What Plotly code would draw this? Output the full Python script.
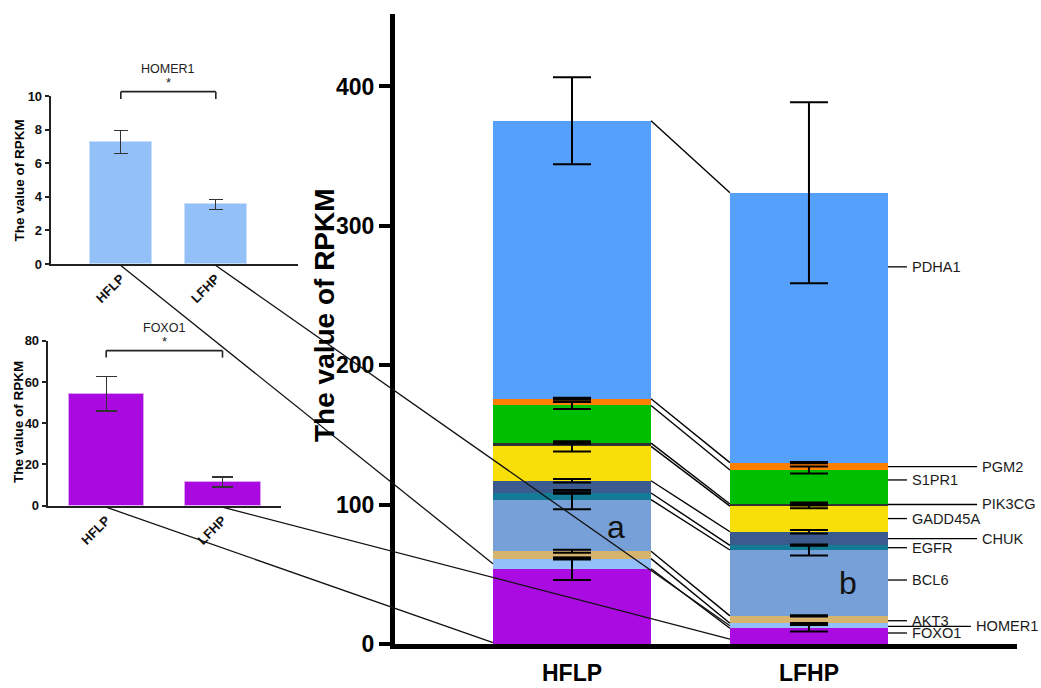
import numpy as np
import plotly.graph_objects as go

W, H = 1041, 688

# ---------------- data ----------------
groups = ["HFLP", "LFHP"]
genes = ["FOXO1", "HOMER1", "AKT3", "BCL6", "EGFR", "CHUK",
         "GADD45A", "PIK3CG", "S1PR1", "PGM2", "PDHA1"]
hflp = [54.0, 7.25, 5.3, 37.0, 4.8, 8.8, 24.6, 2.4, 27.0, 4.8, 199.5]
lfhp = [11.3, 3.55, 5.3, 47.3, 3.3, 9.8, 18.4, 1.5, 24.4, 5.3, 193.6]
hflp_err = [8.0, 0.7, 1.0, 6.9, 0.5, 1.2, 3.7, 0.5, 2.5, 0.7, 31.2]
lfhp_err = [2.4, 0.3, 0.5, 4.0, 0.3, 1.2, 1.5, 1.0, 2.5, 0.5, 65.0]

homer1_mean = [7.25, 3.55]
homer1_err = [0.68, 0.30]
foxo1_mean = [54.2, 11.5]
foxo1_err = [8.3, 2.4]

main_yticks = [0, 100, 200, 300, 400]
homer1_yticks = [0, 2, 4, 6, 8, 10]
foxo1_yticks = [0, 20, 40, 60, 80]

# ---------------- styles / layout helpers ----------------
colors = ["#AA0BE1", "#93C0F8", "#D7B46E", "#77A0D8", "#137B95", "#3B5A8D",
          "#F9DF0A", "#333333", "#00BE00", "#FF8000", "#55A0FA"]
# label anchor values on the LFHP bar (y, in axis units) and leader lengths (x units)
label_y = [7.9, 12.6, 16.7, 45.9, 69.1, 75.6, 90.0, 100.1, 117.7, 127.3, 270.6]
label_len = [0.08, 0.35, 0.08, 0.08, 0.08, 0.376, 0.08, 0.376, 0.08, 0.376, 0.08]

FONT = "Arial, Liberation Sans, sans-serif"
BW = 0.667  # main bar width

MAIN_X = [395 / W, 1017 / W]
MAIN_Y = [1 - 644 / H, 1 - 14 / H]
MAIN_XR = [-0.747, 1.878]
MAIN_YR = [0, 452]

H1_X = [50.7 / W, 298 / W]
H1_Y = [1 - 264 / H, 1 - 96 / H]
H1_XR = [-0.738, 1.865]
H1_YR = [0, 10]

F1_X = [47.7 / W, 281 / W]
F1_Y = [1 - 505.7 / H, 1 - 340.7 / H]
F1_XR = [-0.503, 1.503]
F1_YR = [0, 80]


def to_paper(dom, rng, v):
    return dom[0] + (v - rng[0]) / (rng[1] - rng[0]) * (dom[1] - dom[0])


cum_h = np.cumsum(hflp)
cum_l = np.cumsum(lfhp)

fig = go.Figure()

# ---------------- main stacked bars ----------------
for i, g in enumerate(genes):
    fig.add_trace(go.Bar(x=[0, 1], y=[hflp[i], lfhp[i]], width=BW,
                         marker=dict(color=colors[i], line=dict(width=0)),
                         name=g, xaxis="x", yaxis="y"))

# connecting lines between stacks
for i in range(len(genes)):
    fig.add_trace(go.Scatter(x=[BW / 2, 1 - BW / 2], y=[cum_h[i], cum_l[i]],
                             mode="lines", line=dict(color="black", width=1.4),
                             hoverinfo="skip", xaxis="x", yaxis="y"))

# error bars at segment tops
for gx, cum, err in [(0, cum_h, hflp_err), (1, cum_l, lfhp_err)]:
    fig.add_trace(go.Scatter(x=[gx] * len(cum), y=list(cum), mode="markers",
                             marker=dict(size=1, color="rgba(0,0,0,0)"),
                             error_y=dict(type="data", array=err, visible=True,
                                          color="black", thickness=2, width=19),
                             xaxis="x", yaxis="y"))

# ---------------- HOMER1 panel ----------------
fig.add_trace(go.Bar(x=[0, 1], y=homer1_mean, width=0.65,
                     marker=dict(color="#93C0F9", line=dict(color="#C9DEFB", width=1)),
                     error_y=dict(type="data", array=homer1_err, color="#333333",
                                  thickness=1.3, width=7),
                     xaxis="x2", yaxis="y2"))

# ---------------- FOXO1 panel ----------------
fig.add_trace(go.Bar(x=[0, 1], y=foxo1_mean, width=0.65,
                     marker=dict(color="#AA0AE0", line=dict(color="#D9A2F2", width=1)),
                     error_y=dict(type="data", array=foxo1_err, color="#333333",
                                  thickness=1.3, width=10.5),
                     xaxis="x3", yaxis="y3"))

shapes = []
annotations = []

# gene label leaders and text
x_edge = 1 + BW / 2
for i, g in enumerate(genes):
    x_end = x_edge + label_len[i]
    x_txt = x_end + 0.012
    shapes.append(dict(type="line", xref="x", yref="y", x0=x_edge, x1=x_end,
                       y0=label_y[i], y1=label_y[i],
                       line=dict(color="black", width=1.3)))
    annotations.append(dict(xref="x", yref="y", x=x_txt, y=label_y[i], text=g,
                            showarrow=False, xanchor="left", yanchor="middle",
                            font=dict(family=FONT, size=14.6, color="#1a1a1a")))

# significance letters
annotations.append(dict(xref="x", yref="y", x=0.187, y=84, text="a", showarrow=False,
                        xanchor="center", yanchor="middle",
                        font=dict(family=FONT, size=32, color="#111")))
annotations.append(dict(xref="x", yref="y", x=1.165, y=43.8, text="b", showarrow=False,
                        xanchor="center", yanchor="middle",
                        font=dict(family=FONT, size=32, color="#111")))

# y titles
for tx, ty, ts in [(324, 315, 28), (19, 180.5, 13.5), (18.5, 422.5, 13.5)]:
    annotations.append(dict(xref="paper", yref="paper", x=tx / W, y=1 - ty / H,
                            text="The value of RPKM", textangle=-90, showarrow=False,
                            xanchor="center", yanchor="middle",
                            font=dict(family=FONT, size=ts, color="black", weight="bold")))

# panel titles, brackets and stars
for name, dx, dy, xr, yr, t_y, s_y, b_y, leg_y in [
        ("HOMER1", H1_X, H1_Y, H1_XR, H1_YR, 11.6, 10.8, 10.26, 9.82),
        ("FOXO1", F1_X, F1_Y, F1_XR, F1_YR, 86.0, 79.8, 75.2, 71.8)]:
    px0 = to_paper(dx, xr, 0)
    px1 = to_paper(dx, xr, 1)
    pb = to_paper(dy, yr, b_y)
    pl = to_paper(dy, yr, leg_y)
    for (a0, b0, a1, b1) in [(px0, pl, px0, pb), (px0, pb, px1, pb), (px1, pb, px1, pl)]:
        shapes.append(dict(type="line", xref="paper", yref="paper", x0=a0, y0=b0,
                           x1=a1, y1=b1, line=dict(color="#222", width=1.6)))
    annotations.append(dict(xref="paper", yref="paper", x=(px0 + px1) / 2,
                            y=to_paper(dy, yr, t_y), text=name, showarrow=False,
                            xanchor="center", yanchor="middle",
                            font=dict(family=FONT, size=12.5, color="#222")))
    annotations.append(dict(xref="paper", yref="paper", x=(px0 + px1) / 2,
                            y=to_paper(dy, yr, s_y), text="*", showarrow=False,
                            xanchor="center", yanchor="middle",
                            font=dict(family=FONT, size=13, color="#222")))

# lines from small panels to main stacks
main_px = lambda v: to_paper(MAIN_X, MAIN_XR, v)
main_py = lambda v: to_paper(MAIN_Y, MAIN_YR, v)
connectors = [
    (to_paper(H1_X, H1_XR, 0), to_paper(H1_Y, H1_YR, 0), main_px(-BW / 2), main_py(hflp[0] + hflp[1] / 2)),
    (to_paper(H1_X, H1_XR, 1), to_paper(H1_Y, H1_YR, 0), main_px(1 - BW / 2), main_py(lfhp[0] + lfhp[1] / 2)),
    (to_paper(F1_X, F1_XR, 0), to_paper(F1_Y, F1_YR, 0), main_px(-BW / 2), main_py(1.0)),
    (to_paper(F1_X, F1_XR, 1), to_paper(F1_Y, F1_YR, 0), main_px(1 - BW / 2), main_py(3.5)),
]
for (a0, b0, a1, b1) in connectors:
    shapes.append(dict(type="line", xref="paper", yref="paper", x0=a0, y0=b0 - 1.5 / H,
                       x1=a1, y1=b1, line=dict(color="#111", width=1.3), layer="above"))

tick_main = dict(family=FONT, size=23, color="black", weight="bold")
tick_small = dict(family=FONT, size=13, color="#111", weight="bold")

common = dict(showgrid=False, zeroline=False, automargin=False, showline=True)

fig.update_layout(
    width=W, height=H, margin=dict(l=0, r=0, t=0, b=0, autoexpand=False),
    paper_bgcolor="white", plot_bgcolor="white",
    barmode="stack", showlegend=False, bargap=0,
    shapes=shapes, annotations=annotations,
    xaxis=dict(domain=MAIN_X, range=MAIN_XR, anchor="y", tickvals=[0, 1], ticktext=groups,
               linewidth=5, linecolor="black", ticks="", tickfont=tick_main,
               ticklabelstandoff=4, **common),
    yaxis=dict(domain=MAIN_Y, range=MAIN_YR, anchor="x", tickvals=main_yticks,
               ticks="outside", ticklen=11, tickwidth=4, tickcolor="black",
               linewidth=5, linecolor="black", tickfont=tick_main, **common),
    xaxis2=dict(domain=H1_X, range=H1_XR, anchor="y2", tickvals=[0, 1], ticktext=groups,
                tickangle=-45, linewidth=2, linecolor="#222", ticks="",
                tickfont=tick_small, **common),
    yaxis2=dict(domain=H1_Y, range=H1_YR, anchor="x2", tickvals=homer1_yticks,
                ticks="outside", ticklen=4, tickwidth=2, tickcolor="#222",
                linewidth=2, linecolor="#222", tickfont=tick_small, **common),
    xaxis3=dict(domain=F1_X, range=F1_XR, anchor="y3", tickvals=[0, 1], ticktext=groups,
                tickangle=-45, linewidth=2, linecolor="#222", ticks="",
                tickfont=tick_small, **common),
    yaxis3=dict(domain=F1_Y, range=F1_YR, anchor="x3", tickvals=foxo1_yticks,
                ticks="outside", ticklen=4, tickwidth=2, tickcolor="#222",
                linewidth=2, linecolor="#222", tickfont=tick_small, **common),
)

fig.write_html("out.html", config={"displayModeBar": False},
               post_script="document.body.style.margin='0';document.body.style.overflow='hidden';")
